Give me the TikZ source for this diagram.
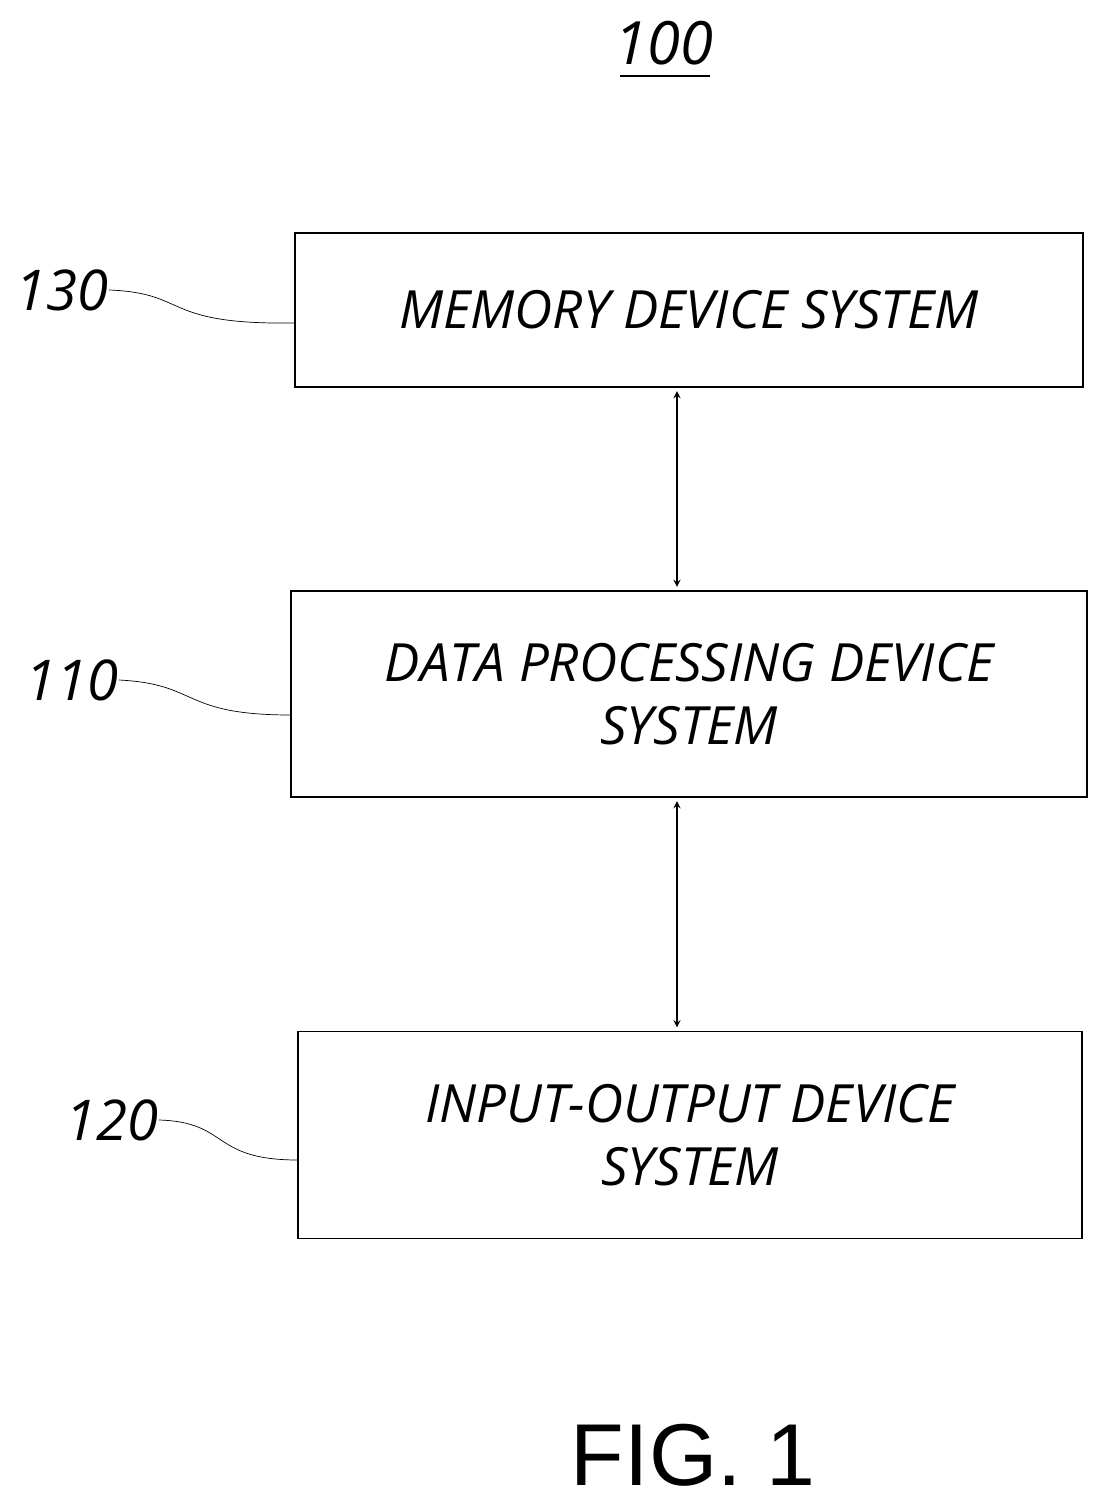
\documentclass[tikz,border=0pt]{standalone}
\usepackage{fontspec}
\setmainfont{Open Sans}
\newfontfamily\figfont{Liberation Sans}
\usepackage{tikz}
\tikzset{blk/.style={draw,thick,minimum height=#1,inner sep=0pt,font=\fontsize{30}{36}\selectfont\itshape,align=center},
  refnum/.style={font=\fontsize{32}{36}\selectfont\itshape,inner sep=0pt}}
\begin{document}
\begin{tikzpicture}[x=0.02cm,y=-0.02cm]
\useasboundingbox (0,0) rectangle (1108,1506);
\node[blk=3.08cm,minimum width=15.76cm] (mem) at (689,310) {MEMORY DEVICE SYSTEM};
\node[blk=4.12cm,minimum width=15.92cm] (dps) at (689,694) {DATA PROCESSING DEVICE\\SYSTEM};
\node[blk=4.14cm,minimum width=15.68cm] (io) at (690,1135) {INPUT-OUTPUT DEVICE\\SYSTEM};
\coordinate (ax) at (677,0);
\draw[thick,<->,>=stealth,shorten <=2pt,shorten >=2pt] (ax|-mem.south) -- (ax|-dps.north);
\draw[thick,<->,>=stealth,shorten <=2pt,shorten >=2pt] (ax|-dps.south) -- (ax|-io.north);
\node[refnum] (n130) at (62,290) {130};
\node[refnum] (n110) at (72,680) {110};
\node[refnum] (n120) at (112,1120) {120};
\coordinate (l130) at (295,323);
\coordinate (l110) at (291,715);
\coordinate (l120) at (298,1160);
\draw (n130.east) .. controls (190,293) and (160,325) .. (l130);
\draw (n110.east) .. controls (200,684) and (180,715) .. (l110);
\draw (n120.east) .. controls (230,1122) and (210,1160) .. (l120);
\node[refnum,font=\fontsize{34}{36}\selectfont\itshape] (top) at (664,43) {100};
\draw[thick] (620,76) -- (710,76);
\node[inner sep=0pt,font=\fontsize{50}{56}\figfont] (fig) at (693,1455) {FIG. 1};
\end{tikzpicture}
\end{document}
